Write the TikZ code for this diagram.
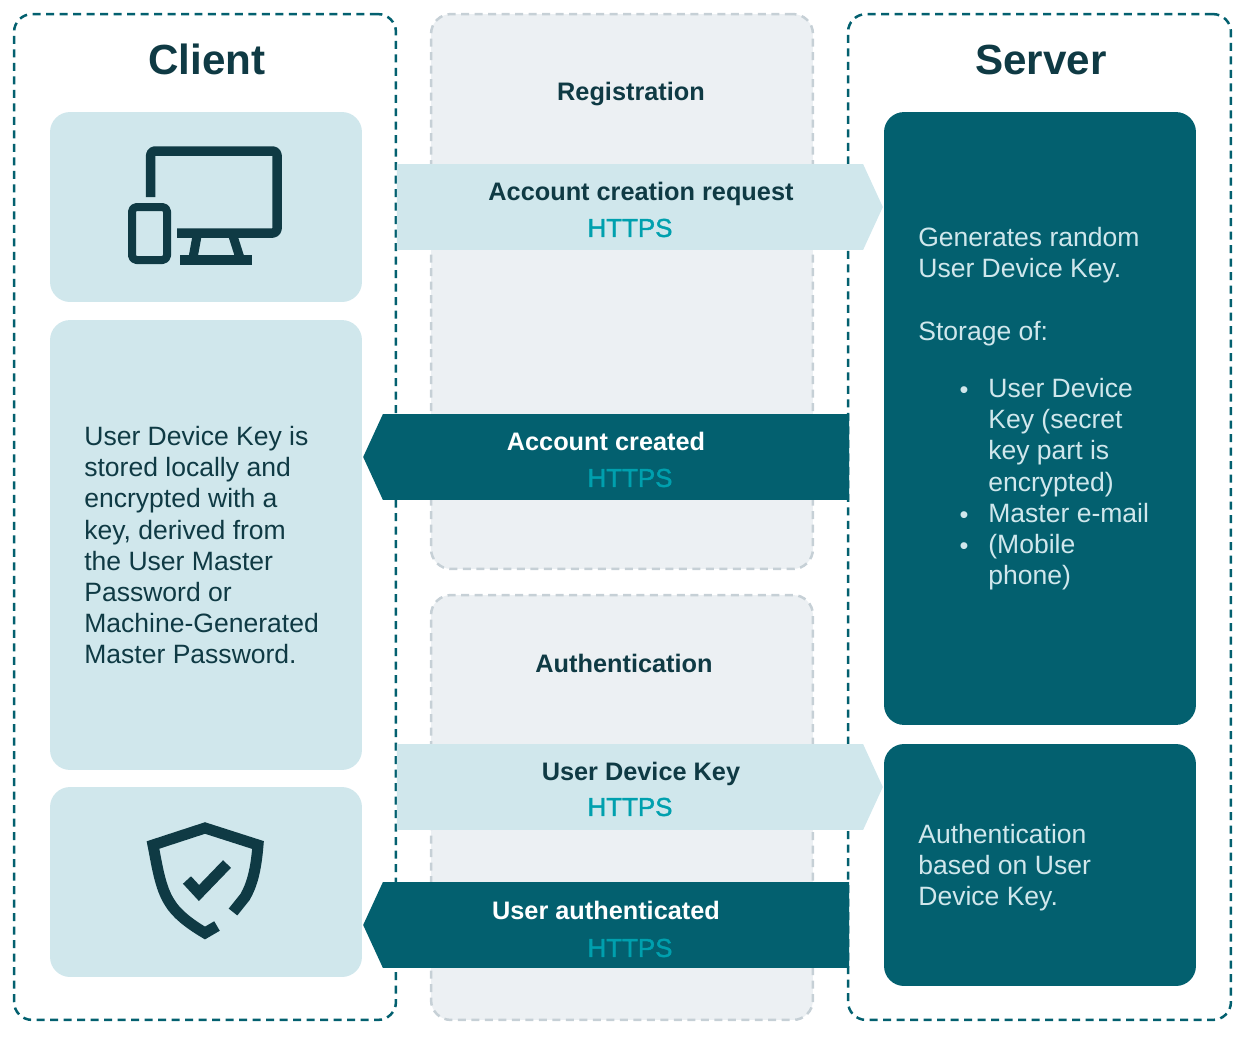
\documentclass[tikz,border=0pt]{standalone}
\usepackage{fontspec}
\setmainfont{Liberation Sans}
\newfontfamily\protofont[FakeBold=1.5]{Liberation Sans}
\usepackage{tikz}
\usetikzlibrary{shapes.symbols}
\definecolor{tealdark}{HTML}{03606F}
\definecolor{teallight}{HTML}{D0E7EC}
\definecolor{tealink}{HTML}{0F3A44}
\definecolor{tealhttps}{HTML}{00A0AE}
\definecolor{lanefill}{HTML}{ECF0F3}
\definecolor{lanedash}{HTML}{C6D0D6}
\tikzstyle{side} = [rectangle, rounded corners=0.36cm, inner sep=0, outer sep=0, draw=tealdark, line width=0.05cm, dash pattern=on 0.16cm off 0.11cm]
\tikzstyle{lane} = [rectangle, rounded corners=0.4cm, inner sep=0, outer sep=0, draw=lanedash, fill=lanefill, line width=0.05cm, dash pattern=on 0.16cm off 0.11cm]
\tikzstyle{card} = [rectangle, rounded corners=0.4cm, inner sep=0, outer sep=0, minimum width=6.24cm]
\tikzstyle{band} = [signal, signal from=nowhere, signal pointer angle=130.6, inner sep=0, outer sep=0, minimum width=9.72cm, minimum height=1.72cm]
\tikzstyle{title} = [font=\fontsize{24pt}{30pt}\selectfont\bfseries, text=tealink]
\tikzstyle{label} = [font=\fontsize{14.4pt}{17pt}\selectfont\bfseries, text=tealink]
\tikzstyle{proto} = [font=\protofont\fontsize{14.75pt}{17pt}\selectfont, text=tealhttps]
\tikzstyle{body} = [font=\fontsize{15.1pt}{17.75pt}\selectfont, align=left, anchor=north west, inner sep=0]
\tikzstyle{icon} = [draw=tealink, line width=0.19cm, line join=round]

\begin{document}
\begin{tikzpicture}[x=0.02cm, y=-0.02cm]
\useasboundingbox (0,0) rectangle (1242,1038);

\node (client) [side, minimum width=7.64cm, minimum height=20.12cm] at (205,517) {};
\node (server) [side, minimum width=7.66cm, minimum height=20.12cm] at (1039.5,517) {};
\node (reg) [lane, minimum width=7.64cm, minimum height=11.1cm] at (622,291.5) {};
\node (auth) [lane, minimum width=7.64cm, minimum height=8.5cm] at (622,807.5) {};

\node (device) [card, fill=teallight, minimum height=3.8cm] at (206,207) {};
\node (stored) [card, fill=teallight, minimum height=9cm] at (206,545) {};
\node (shield) [card, fill=teallight, minimum height=3.8cm] at (206,882) {};
\node (gen) [card, fill=tealdark, minimum height=12.26cm] at (1040,418.5) {};
\node (based) [card, fill=tealdark, minimum height=4.84cm] at (1040,865) {};

\node (reqarrow) [band, signal to=east, fill=teallight] at (630,207) {};
\node (okarrow) [band, signal to=west, fill=tealdark] at (616,457) {};
\node (keyarrow) [band, signal to=east, fill=teallight] at (630,787) {};
\node (authedarrow) [band, signal to=west, fill=tealdark] at (616,925) {};

\node (clienttitle) [title] at (207,59) {Client};
\node (servertitle) [title] at (1041,60) {Server};
\node (regtitle) [label] at (631,94) {Registration};
\node (authtitle) [label] at (624,663) {Authentication};

\node (req) [label] at (641,194) {Account creation request};
\node (reqproto) [proto] at (630,228) {HTTPS};
\node (ok) [label, text=white] at (606,441) {Account created};
\node (okproto) [proto] at (630,478) {HTTPS};
\node (key) [label] at (641,774) {User Device Key};
\node (keyproto) [proto] at (630,807) {HTTPS};
\node (authed) [label, text=white] at (606,910) {User authenticated};
\node (authedproto) [proto] at (630,948) {HTTPS};

\node (storedtext) [body, text=tealink] at (84,426) {User Device Key is\\stored locally and\\encrypted with a\\key, derived from\\the User Master\\Password or\\Machine-Generated\\Master Password.};
\node (gentext) [body, text=teallight] at (918,227) {Generates random\\User Device Key.\\[17.75pt]Storage of:};
\node (items) [body, text=teallight] at (988,378) {User Device\\Key (secret\\key part is\\encrypted)\\Master e-mail\\(Mobile\\phone)};
\node (dot1) [body, anchor=center, text=teallight] at (964,393) {\Large•};
\node (dot2) [body, anchor=center, text=teallight] at (964,518) {\Large•};
\node (dot3) [body, anchor=center, text=teallight] at (964,549) {\Large•};
\node (basedtext) [body, text=teallight] at (918,824) {Authentication\\based on User\\Device Key.};

% monitor and phone
\draw [icon, rounded corners=0.08cm] (150.7,197) -- (150.7,151) -- (277,151) -- (277,233) -- (177,233);
\draw [icon, line width=0.18cm] (197,236) -- (193,258);
\draw [icon, line width=0.18cm] (233,236) -- (240,258);
\draw [icon, line width=0.2cm, line join=miter] (180,260) -- (252,260);
\draw [icon, line width=0.16cm, rounded corners=0.09cm] (132,207) rectangle (167,260);

% shield with check
\draw [icon, line width=0.22cm, line join=miter] (217,926) -- (205,933) .. controls (188,923) and (176,913) .. (170,903) .. controls (160,888) and (157,865) .. (153,845) -- (205,828) -- (258,845) .. controls (256,870) and (252,885) .. (245,897) -- (233,912);
\draw [icon, line width=0.22cm, line join=miter] (187,880) -- (199,893) -- (227,864);
\end{tikzpicture}
\end{document}
